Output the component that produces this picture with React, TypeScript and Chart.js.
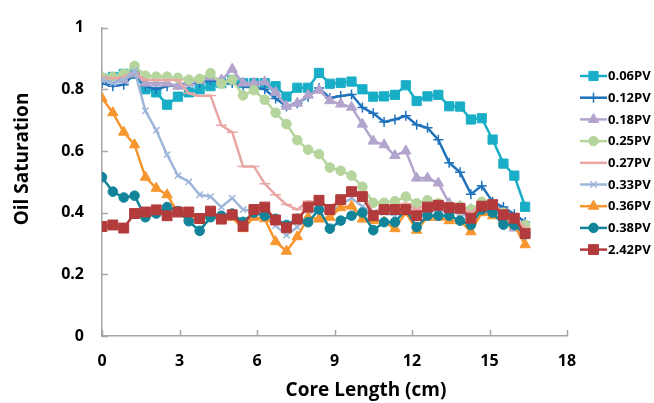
import React, { useEffect, useRef } from "react";
import { Chart, registerables } from "chart.js";
import { drawPoint } from "chart.js/helpers";

Chart.register(...registerables);

// Sampling positions along the core (cm)
const coreLength = [
  0, 0.42, 0.84, 1.26, 1.68, 2.1, 2.52, 2.94, 3.36, 3.78, 4.2, 4.62, 5.04, 5.46,
  5.88, 6.3, 6.72, 7.14, 7.56, 7.98, 8.4, 8.82, 9.24, 9.66, 10.08, 10.5, 10.92,
  11.34, 11.76, 12.18, 12.6, 13.02, 13.44, 13.86, 14.28, 14.7, 15.12, 15.54,
  15.96, 16.38,
];

// Oil saturation profiles at each injected pore volume
const so006 = [
  0.834, 0.84, 0.85, 0.85, 0.8, 0.79, 0.75, 0.776, 0.79, 0.8, 0.81, 0.82, 0.83,
  0.82, 0.82, 0.82, 0.81, 0.776, 0.805, 0.805, 0.853, 0.818, 0.821, 0.825, 0.8,
  0.776, 0.777, 0.782, 0.813, 0.762, 0.777, 0.782, 0.745, 0.744, 0.702, 0.706,
  0.637, 0.559, 0.52, 0.419,
];
const so012 = [
  0.82, 0.81, 0.815, 0.85, 0.81, 0.8, 0.81, 0.815, 0.82, 0.82, 0.83, 0.82, 0.82,
  0.81, 0.805, 0.8, 0.77, 0.745, 0.755, 0.776, 0.804, 0.772, 0.778, 0.783, 0.741,
  0.722, 0.694, 0.702, 0.714, 0.685, 0.675, 0.636, 0.562, 0.531, 0.46, 0.487,
  0.435, 0.418, 0.395, 0.37,
];
const so018 = [
  0.84, 0.83, 0.83, 0.85, 0.82, 0.82, 0.82, 0.81, 0.82, 0.83, 0.84, 0.83, 0.865,
  0.82, 0.82, 0.824, 0.79, 0.745, 0.755, 0.781, 0.797, 0.763, 0.752, 0.742,
  0.687, 0.632, 0.62, 0.585, 0.6, 0.512, 0.512, 0.496, 0.43, 0.42, 0.41, 0.4,
  0.41, 0.38, 0.35, 0.345,
];
const so025 = [
  0.839, 0.84, 0.85, 0.876, 0.844, 0.841, 0.841, 0.837, 0.831, 0.834, 0.852,
  0.818, 0.831, 0.78, 0.797, 0.766, 0.724, 0.687, 0.635, 0.604, 0.59, 0.546,
  0.536, 0.52, 0.484, 0.432, 0.432, 0.437, 0.452, 0.43, 0.44, 0.43, 0.42, 0.42,
  0.41, 0.435, 0.42, 0.4, 0.38, 0.36,
];
const so027 = [
  0.84, 0.835, 0.84, 0.855, 0.83, 0.83, 0.83, 0.83, 0.787, 0.778, 0.78, 0.683,
  0.661, 0.55, 0.55, 0.494, 0.458, 0.426, 0.41, 0.437, 0.43, 0.42, 0.44, 0.47,
  0.46, 0.4, 0.42, 0.42, 0.43, 0.41, 0.43, 0.43, 0.43, 0.42, 0.4, 0.43, 0.43,
  0.4, 0.39, 0.35,
];
const so033 = [
  0.83, 0.82, 0.83, 0.86, 0.73, 0.667, 0.588, 0.52, 0.5, 0.458, 0.452, 0.418,
  0.447, 0.41, 0.405, 0.39, 0.358, 0.327, 0.353, 0.395, 0.41, 0.4, 0.426, 0.447,
  0.42, 0.4, 0.4, 0.39, 0.41, 0.39, 0.4, 0.41, 0.4, 0.4, 0.38, 0.41, 0.41, 0.38,
  0.36, 0.34,
];
const so036 = [
  0.771, 0.724, 0.661, 0.62, 0.515, 0.479, 0.458, 0.4, 0.385, 0.375, 0.39, 0.38,
  0.385, 0.348, 0.385, 0.38, 0.306, 0.275, 0.322, 0.385, 0.379, 0.385, 0.416,
  0.421, 0.379, 0.374, 0.37, 0.348, 0.4, 0.343, 0.385, 0.385, 0.374, 0.374,
  0.338, 0.4, 0.39, 0.374, 0.358, 0.296,
];
const so038 = [
  0.515, 0.468, 0.449, 0.455, 0.385, 0.397, 0.418, 0.405, 0.372, 0.341, 0.385,
  0.39, 0.397, 0.37, 0.4, 0.39, 0.38, 0.36, 0.38, 0.369, 0.41, 0.348, 0.374,
  0.39, 0.4, 0.343, 0.369, 0.369, 0.41, 0.353, 0.39, 0.39, 0.39, 0.374, 0.36,
  0.41, 0.4, 0.361, 0.36, 0.33,
];
const so242 = [
  0.355, 0.36, 0.35, 0.397, 0.402, 0.409, 0.39, 0.402, 0.402, 0.381, 0.405,
  0.379, 0.393, 0.356, 0.41, 0.418, 0.376, 0.351, 0.379, 0.418, 0.44, 0.41,
  0.442, 0.468, 0.452, 0.39, 0.41, 0.41, 0.41, 0.39, 0.418, 0.424, 0.416, 0.414,
  0.382, 0.421, 0.426, 0.393, 0.382, 0.332,
];

const seriesLabels = [
  "0.06PV", "0.12PV", "0.18PV", "0.25PV", "0.27PV", "0.33PV", "0.36PV", "0.38PV", "2.42PV",
];
const seriesValues = [so006, so012, so018, so025, so027, so033, so036, so038, so242];

const xTickValues = [0, 3, 6, 9, 12, 15, 18];
const yTickValues = [0, 0.2, 0.4, 0.6, 0.8, 1];

const xTitle = "Core Length (cm)";
const yTitle = "Oil Saturation";

// Per-series look: colour, marker shape, marker radius
const seriesStyles = [
  { color: "#19AEC7", point: "rect", radius: 6.5 },
  { color: "#1F72BB", point: "cross", radius: 5 },
  { color: "#B2A4CC", point: "triangle", radius: 6 },
  { color: "#B5D59C", point: "circle", radius: 4.8 },
  { color: "#E8A7A5", point: "line", radius: 5.5 },
  { color: "#9EB6DA", point: "crossRot", radius: 4.5 },
  { color: "#F7962F", point: "triangle", radius: 6 },
  { color: "#12849A", point: "circle", radius: 4.8 },
  { color: "#B33B3B", point: "rect", radius: 7 },
];

const AXIS_COLOR = "#A6A6A6";
const FONT = "'Open Sans', 'DejaVu Sans', sans-serif";

const decorPlugin = {
  id: "decor",
  afterDraw(chart: any) {
    const { ctx, chartArea, scales } = chart;
    const xs = scales.x;
    const ys = scales.y;
    ctx.save();

    // inward tick marks
    ctx.strokeStyle = AXIS_COLOR;
    ctx.lineWidth = 1.5;
    ctx.beginPath();
    for (const v of xTickValues) {
      const px = Math.round(xs.getPixelForValue(v)) + 0.5;
      ctx.moveTo(px, chartArea.bottom);
      ctx.lineTo(px, chartArea.bottom - 6);
    }
    for (const v of yTickValues) {
      const py = Math.round(ys.getPixelForValue(v)) + 0.5;
      ctx.moveTo(chartArea.left, py);
      ctx.lineTo(chartArea.left + 6, py);
    }
    ctx.stroke();

    // axis titles
    ctx.fillStyle = "#000";
    ctx.font = `bold 19px ${FONT}`;
    ctx.textAlign = "center";
    ctx.textBaseline = "middle";
    ctx.fillText(xTitle, 366, 391);
    ctx.save();
    ctx.translate(23, 159);
    ctx.rotate(-Math.PI / 2);
    ctx.fillText(yTitle, 0, 0);
    ctx.restore();

    // legend: line sample with marker, then label
    const lx = 580;
    const ly = 76;
    const step = 21.7;
    chart.data.datasets.forEach((ds: any, i: number) => {
      const y = ly + i * step;
      const st = seriesStyles[i];
      ctx.strokeStyle = st.color;
      ctx.fillStyle = st.color;
      ctx.lineWidth = 2.5;
      ctx.beginPath();
      ctx.moveTo(lx, y);
      ctx.lineTo(lx + 27, y);
      ctx.stroke();
      ctx.lineWidth = st.point === "cross" || st.point === "crossRot" || st.point === "line" ? 1.5 : 1;
      drawPoint(ctx, { pointStyle: st.point, rotation: 0, radius: st.radius, borderWidth: ctx.lineWidth }, lx + 13.5, y);
      ctx.fillStyle = "#000";
      ctx.font = `bold 13px ${FONT}`;
      ctx.textAlign = "left";
      ctx.textBaseline = "middle";
      ctx.fillText(ds.label, lx + 28, y + 0.5);
    });

    ctx.restore();
  },
};

export default function App() {
  const canvasRef = useRef<HTMLCanvasElement | null>(null);

  useEffect(() => {
    if (!canvasRef.current) return;
    const datasets = seriesLabels.map((label, i) => {
      const st = seriesStyles[i];
      const isStroke = st.point === "cross" || st.point === "crossRot" || st.point === "line";
      return {
        label,
        data: coreLength.map((x, k) => ({ x, y: seriesValues[i][k] })),
        borderColor: st.color,
        backgroundColor: st.color,
        borderWidth: 2.5,
        pointStyle: st.point,
        pointRadius: st.radius,
        pointHoverRadius: st.radius,
        pointBorderWidth: isStroke ? 1.5 : 1,
        pointBorderColor: st.color,
        pointBackgroundColor: st.color,
        tension: 0,
        order: seriesLabels.length - i,
      };
    });

    const chart = new Chart(canvasRef.current, {
      type: "line",
      data: { datasets },
      options: {
        animation: false,
        responsive: false,
        devicePixelRatio: 1,
        layout: { padding: { top: 17, right: 87, left: 0, bottom: 0 } },
        plugins: { legend: { display: false }, tooltip: { enabled: false } },
        scales: {
          x: {
            type: "linear",
            min: 0,
            max: 18,
            afterBuildTicks: (s: any) => {
              s.ticks = xTickValues.map((v) => ({ value: v }));
            },
            afterFit: (s: any) => {
              s.height = 67;
            },
            grid: { display: false, drawTicks: false },
            border: { display: true, color: AXIS_COLOR, width: 1.5 },
            ticks: {
              padding: 16,
              color: "#000",
              font: { family: FONT, size: 16, weight: "bold" },
              maxRotation: 0,
              callback: (v: any) => String(v),
            },
          },
          y: {
            type: "linear",
            min: 0,
            max: 1,
            afterBuildTicks: (s: any) => {
              s.ticks = yTickValues.map((v) => ({ value: v }));
            },
            afterFit: (s: any) => {
              s.width = 102;
            },
            grid: { display: false, drawTicks: false },
            border: { display: true, color: AXIS_COLOR, width: 1.5 },
            ticks: {
              padding: 18,
              color: "#000",
              font: { family: FONT, size: 16, weight: "bold" },
              callback: (v: any) => String(v),
            },
          },
        },
      },
      plugins: [decorPlugin],
    } as any);

    return () => chart.destroy();
  }, []);

  return (
    <div style={{ position: "fixed", left: 0, top: 0, width: 654, height: 403, background: "#fff" }}>
      <canvas ref={canvasRef} width={654} height={403} style={{ display: "block" }} />
    </div>
  );
}
